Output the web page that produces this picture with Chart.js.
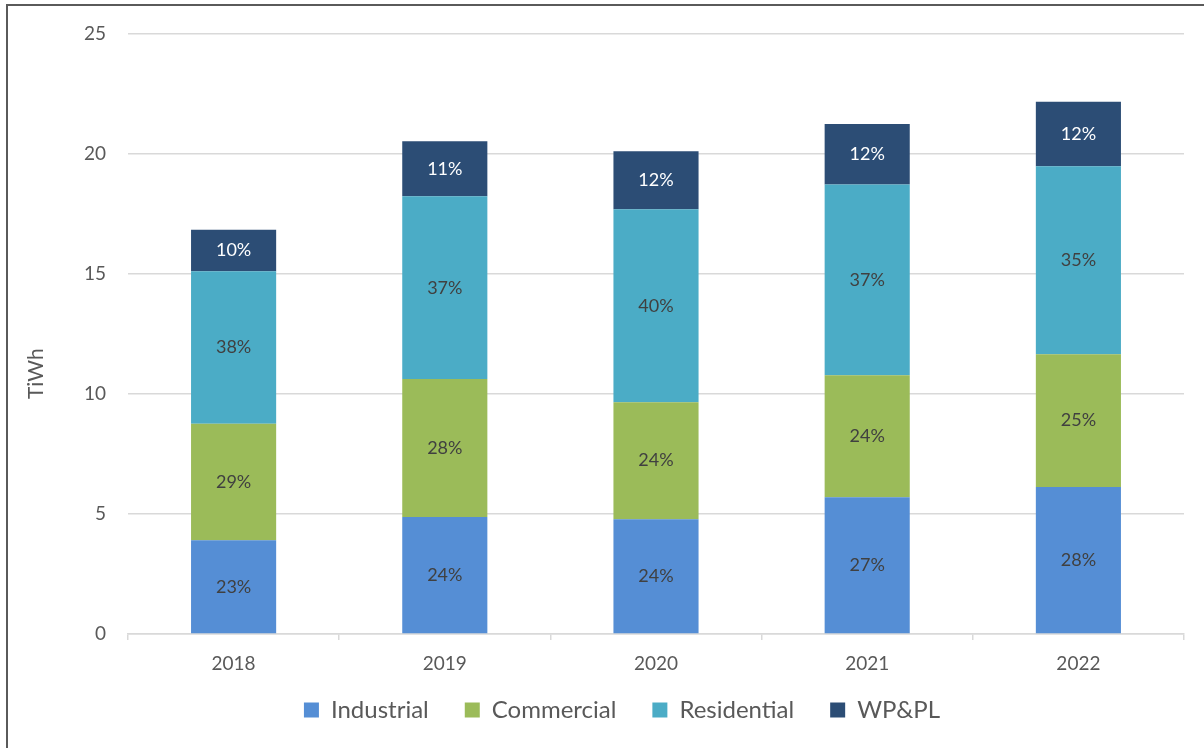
<!DOCTYPE html>
<html>
<head>
<meta charset="utf-8">
<title>Electricity consumption by sector</title>
<script src="https://cdn.jsdelivr.net/npm/chart.js@4.4.1/dist/chart.umd.min.js"></script>
<style>
  html, body { margin: 0; padding: 0; background: #fff; }
  #wrap { position: relative; width: 1204px; height: 748px; }
  #frame {
    position: absolute; left: 6px; top: 4px; right: 0; bottom: 0;
    border-left: 2px solid #5a5a5a; border-top: 2px solid #5a5a5a;
    pointer-events: none;
  }
</style>
</head>
<body>
<div id="wrap">
  <canvas id="chart" width="1204" height="748"></canvas>
  <div id="frame"></div>
</div>
<script>
// sales by sector, TiWh
const years = ['2018', '2019', '2020', '2021', '2022'];
const industrial  = [3.90, 4.87, 4.78, 5.69, 6.12];
const commercial  = [4.85, 5.74, 4.87, 5.08, 5.52];
const residential = [6.35, 7.61, 8.03, 7.94, 7.83];
const wppl        = [1.73, 2.29, 2.41, 2.52, 2.68];
const yTicks = [0, 5, 10, 15, 20, 25];

const totals = years.map((_, i) => industrial[i] + commercial[i] + residential[i] + wppl[i]);

const FONT = 'Lato';
const GRID = '#d9d9d9';
const TEXT = '#595959';

// writes each segment's share of the yearly total inside the bar
const shareLabels = {
  id: 'shareLabels',
  afterDatasetsDraw(chart) {
    const ctx = chart.ctx;
    ctx.save();
    ctx.font = '18px ' + FONT;
    ctx.textAlign = 'center';
    ctx.textBaseline = 'middle';
    chart.data.datasets.forEach((ds, di) => {
      const meta = chart.getDatasetMeta(di);
      meta.data.forEach((bar, i) => {
        const pct = Math.round(ds.data[i] / totals[i] * 100);
        ctx.fillStyle = ds.labelColor;
        ctx.fillText(pct + '%', bar.x, (bar.y + bar.base) / 2);
      });
    });
    ctx.restore();
  }
};

// unit title sits a bit below the middle of the axis; legend pulled up and right
const axisUnit = {
  id: 'axisUnit',
  afterLayout(chart) {
    const lg = chart.legend;
    lg.left += 30;
    lg.right += 30;
    lg.top -= 16;
    lg.bottom -= 16;
  },
  afterDraw(chart) {
    const { ctx, chartArea } = chart;
    ctx.save();
    ctx.translate(36, (chartArea.top + chartArea.bottom) / 2 + 40);
    ctx.rotate(-Math.PI / 2);
    ctx.font = '21px ' + FONT;
    ctx.fillStyle = TEXT;
    ctx.textAlign = 'center';
    ctx.textBaseline = 'middle';
    ctx.fillText('TiWh', 0, 0);
    ctx.restore();
  }
};

new Chart(document.getElementById('chart'), {
  type: 'bar',
  data: {
    labels: years,
    datasets: [
      { label: 'Industrial',  data: industrial,  backgroundColor: '#558ed5', labelColor: '#404040' },
      { label: 'Commercial',  data: commercial,  backgroundColor: '#9bbb59', labelColor: '#404040' },
      { label: 'Residential', data: residential, backgroundColor: '#4bacc6', labelColor: '#404040' },
      { label: 'WP&PL',       data: wppl,        backgroundColor: '#2c4d75', labelColor: '#ffffff' }
    ]
  },
  options: {
    responsive: false,
    animation: false,
    layout: { padding: { left: 0, right: 20, top: 33, bottom: 0 } },
    datasets: { bar: { barPercentage: 0.403, categoryPercentage: 1, borderWidth: 0 } },
    plugins: {
      legend: {
        position: 'bottom',
        labels: {
          font: { family: FONT, size: 24 },
          color: TEXT,
          boxWidth: 15,
          boxHeight: 15,
          padding: 36
        }
      },
      tooltip: { enabled: false }
    },
    scales: {
      x: {
        stacked: true,
        afterFit(scale) { scale.height = 44; },
        grid: { offset: true, drawOnChartArea: false, drawTicks: true, tickLength: 6, color: GRID, lineWidth: 1.5 },
        border: { color: GRID, width: 1.5 },
        ticks: { font: { family: FONT, size: 19 }, color: TEXT, padding: 12 }
      },
      y: {
        stacked: true,
        min: 0,
        max: 25,
        afterFit(scale) { scale.width = 128; },
        afterBuildTicks(scale) { scale.ticks = yTicks.map(v => ({ value: v })); },
        grid: { color: GRID, lineWidth: 1.5, drawTicks: false },
        border: { display: false },
        ticks: { font: { family: FONT, size: 19 }, color: TEXT, padding: 22 }
      }
    }
  },
  plugins: [shareLabels, axisUnit]
});
</script>
</body>
</html>
